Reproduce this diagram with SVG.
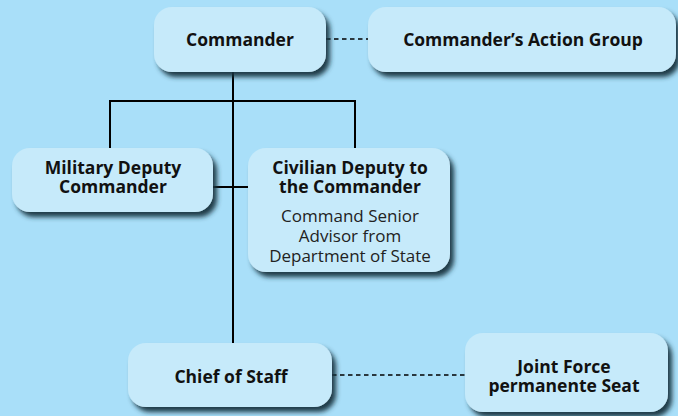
<svg xmlns="http://www.w3.org/2000/svg" width="678" height="416" viewBox="0 0 678 416">
<defs>
<filter id="sh" x="-10%" y="-20%" width="130%" height="150%">
<feDropShadow dx="4" dy="5" stdDeviation="2.8" flood-color="#183040" flood-opacity="0.95"/>
</filter>
<style>
.box{fill:#c6eafa;filter:url(#sh);}
.b{font-family:"Open Sans","Noto Sans",sans-serif;font-weight:bold;font-size:17.5px;fill:#111;text-anchor:middle;}
.r{font-family:"Open Sans","Noto Sans",sans-serif;font-size:17px;fill:#222;text-anchor:middle;}
.ln{stroke:#000;stroke-width:2;fill:none;}
.dash{stroke:#000;stroke-width:1.3;stroke-dasharray:4.5 3.5;fill:none;}
</style>
</defs>
<rect width="678" height="416" fill="#a9dff9"/>
<g id="connectors">
<path class="ln" d="M233 72V343M110 148V101H355V148M213 187H248"/>
<path class="dash" d="M326 39H368"/>
<path class="dash" d="M332 375H465"/>
</g>
<g id="commander">
<rect class="box" x="154" y="7" width="172" height="65" rx="18"/>
<text class="b" x="240" y="46">Commander</text>
</g>
<g id="action-group">
<rect class="box" x="368" y="7" width="308" height="65" rx="18"/>
<text class="b" x="523" y="46">Commander’s Action Group</text>
</g>
<g id="military-deputy">
<rect class="box" x="12" y="148" width="201" height="64" rx="18"/>
<text class="b" x="113" y="174">Military Deputy</text>
<text class="b" x="113" y="193">Commander</text>
</g>
<g id="civilian-deputy">
<rect class="box" x="248" y="148" width="202" height="124" rx="18"/>
<text class="b" x="350" y="174">Civilian Deputy to</text>
<text class="b" x="350" y="193">the Commander</text>
<text class="r" x="350" y="222">Command Senior</text>
<text class="r" x="350" y="242">Advisor from</text>
<text class="r" x="350" y="262">Department of State</text>
</g>
<g id="chief-of-staff">
<rect class="box" x="128" y="343" width="204" height="64" rx="18"/>
<text class="b" x="231" y="383">Chief of Staff</text>
</g>
<g id="joint-force">
<rect class="box" x="465" y="333" width="203" height="79" rx="18"/>
<text class="b" x="564" y="373">Joint Force</text>
<text class="b" x="564" y="392">permanente Seat</text>
</g>
</svg>
